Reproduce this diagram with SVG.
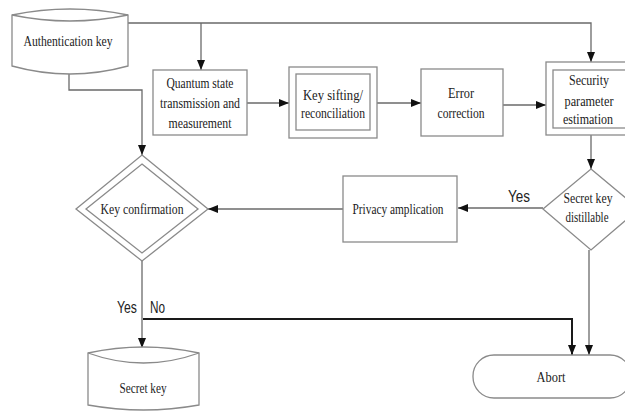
<svg xmlns="http://www.w3.org/2000/svg" width="625" height="411" viewBox="0 0 625 411">
<defs>
<marker id="arr" markerUnits="userSpaceOnUse" markerWidth="10" markerHeight="10" viewBox="0 0 10 10" refX="10" refY="5" orient="auto">
<path d="M0,1 L10,5 L0,9 Z" fill="#111"/>
</marker>
<style>
.shape{fill:#fff;stroke:#8a8a8a;stroke-width:1.3}
.line{fill:none;stroke:#6a6a6a;stroke-width:1.3}
.thick{fill:none;stroke:#1a1a1a;stroke-width:2}
.t{font-family:"Liberation Serif","Times New Roman",serif;font-size:15px;fill:#222;text-anchor:middle}
.s{font-family:"Liberation Sans",Arial,sans-serif;font-size:16px;fill:#222}
</style>
</defs>
<rect width="625" height="411" fill="#fff"/>
<g id="connectors">
<path class="line" d="M128,23 H591 V62" marker-end="url(#arr)"/>
<path class="line" d="M201,23 V70" marker-end="url(#arr)"/>
<path class="line" d="M69,74 V90 H142 V155" marker-end="url(#arr)"/>
<path class="line" d="M247,103 H289" marker-end="url(#arr)"/>
<path class="line" d="M377,103 H421" marker-end="url(#arr)"/>
<path class="line" d="M503,105 H546" marker-end="url(#arr)"/>
<path class="line" d="M591,135 V169" marker-end="url(#arr)"/>
<path class="line" d="M543,208 H458" marker-end="url(#arr)"/>
<path class="line" d="M343,209 H208" marker-end="url(#arr)"/>
<path class="line" d="M142,261 V348" marker-end="url(#arr)"/>
<path class="thick" d="M143,319 H572 V355" marker-end="url(#arr)"/>
<path class="line" d="M589,250 V355" marker-end="url(#arr)"/>
<text class="s" x="508" y="202" textLength="22" lengthAdjust="spacingAndGlyphs">Yes</text>
<text class="s" x="117" y="313" textLength="20" lengthAdjust="spacingAndGlyphs">Yes</text>
<text class="s" x="150" y="313" textLength="15" lengthAdjust="spacingAndGlyphs">No</text>
</g>
<g id="auth-key">
<path class="shape" d="M12,15 Q70,3 128,15 L128,66 Q70,82 12,66 Z"/>
<path class="shape" d="M12,15 Q70,27 128,15" fill="none"/>
<text class="t" x="68" y="46" textLength="89" lengthAdjust="spacingAndGlyphs">Authentication key</text>
</g>
<g id="quantum">
<rect class="shape" x="153" y="70" width="94" height="65"/>
<text class="t" x="200" y="88" textLength="67" lengthAdjust="spacingAndGlyphs">Quantum state</text>
<text class="t" x="200" y="108" textLength="80" lengthAdjust="spacingAndGlyphs">transmission and</text>
<text class="t" x="200" y="128" textLength="63" lengthAdjust="spacingAndGlyphs">measurement</text>
</g>
<g id="sifting">
<rect class="shape" x="289" y="67" width="88" height="71"/>
<rect class="shape" x="296" y="74" width="74" height="56"/>
<text class="t" x="333" y="100" textLength="60" lengthAdjust="spacingAndGlyphs">Key sifting/</text>
<text class="t" x="333" y="118" textLength="64" lengthAdjust="spacingAndGlyphs">reconciliation</text>
</g>
<g id="error">
<rect class="shape" x="421" y="69" width="82" height="67"/>
<text class="t" x="461" y="98" textLength="26" lengthAdjust="spacingAndGlyphs">Error</text>
<text class="t" x="461" y="118" textLength="47" lengthAdjust="spacingAndGlyphs">correction</text>
</g>
<g id="security">
<rect class="shape" x="546" y="62" width="90" height="73"/>
<rect class="shape" x="553" y="70" width="76" height="58"/>
<text class="t" x="589" y="85" textLength="40" lengthAdjust="spacingAndGlyphs">Security</text>
<text class="t" x="589" y="106" textLength="49" lengthAdjust="spacingAndGlyphs">parameter</text>
<text class="t" x="588" y="124" textLength="50" lengthAdjust="spacingAndGlyphs">estimation</text>
</g>
<g id="distillable">
<polygon class="shape" points="591,169 639,209 591,250 543,209"/>
<text class="t" x="588" y="203" textLength="49" lengthAdjust="spacingAndGlyphs">Secret key</text>
<text class="t" x="587" y="222" textLength="43" lengthAdjust="spacingAndGlyphs">distillable</text>
</g>
<g id="privacy">
<rect class="shape" x="343" y="176" width="114" height="66"/>
<text class="t" x="398" y="214" textLength="91" lengthAdjust="spacingAndGlyphs">Privacy amplication</text>
</g>
<g id="confirmation">
<polygon class="shape" points="142,155 208,209 142,261 76,209"/>
<polygon class="shape" points="142,164 198,209 142,253 86,209"/>
<text class="t" x="142" y="214" textLength="83" lengthAdjust="spacingAndGlyphs">Key confirmation</text>
</g>
<g id="secret-key">
<path class="shape" d="M88,353 Q143.5,341 199,353 L199,405 Q143.5,415 88,405 Z"/>
<path class="shape" d="M88,353 Q143.5,373 199,353" fill="none"/>
<text class="t" x="143" y="393" textLength="47" lengthAdjust="spacingAndGlyphs">Secret key</text>
</g>
<g id="abort">
<rect class="shape" x="473" y="355" width="158" height="43" rx="21" ry="21"/>
<text class="t" x="551" y="382" textLength="29" lengthAdjust="spacingAndGlyphs">Abort</text>
</g>
</svg>
